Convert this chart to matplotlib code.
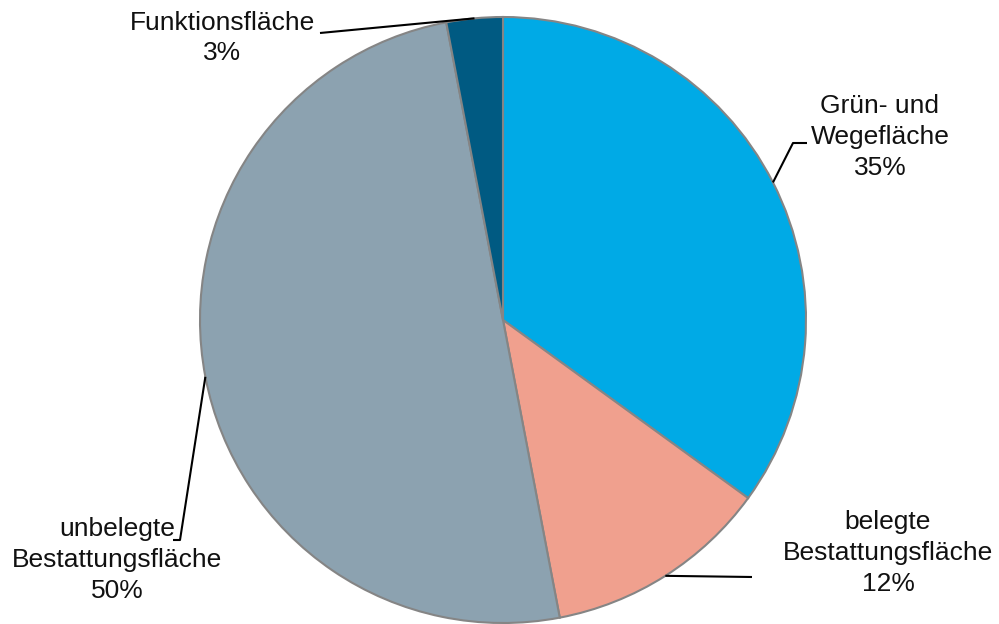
import numpy as np
import matplotlib.pyplot as plt

plt.rcParams['font.family'] = ['Liberation Sans', 'DejaVu Sans']

# data
labels = ["Grün- und\nWegefläche", "belegte\nBestattungsfläche",
          "unbelegte\nBestattungsfläche", "Funktionsfläche"]
shares = [35, 12, 50, 3]
colors = ["#00aae6", "#f0a08e", "#8ca2b0", "#005a82"]

fig = plt.figure(figsize=(9.99, 6.24), dpi=100)
ax = fig.add_axes([0, 0, 1, 1])

cx, cy, r = 503, 304, 303
wedges, _ = ax.pie(shares, colors=colors, startangle=90, counterclock=False,
                   center=(cx, cy), radius=r, frame=True,
                   wedgeprops=dict(edgecolor="#858585", linewidth=1.5))
ax.set_xlim(0, 999)
ax.set_ylim(0, 624)
ax.set_aspect("auto")
ax.axis("off")

# label text positions and leader elbow points (pixel coords, y up)
text_pos = [(880, 487), (888, 71), (117, 64), (222, 586)]
elbows = [[(793, 481), (807, 481)],
          [(752, 47)],
          [(180, 84), (173, 84)],
          [(320, 591)]]

for w, lab, val, tp, el in zip(wedges, labels, shares, text_pos, elbows):
    ang = np.deg2rad((w.theta1 + w.theta2) / 2)
    ax0 = cx + r * np.cos(ang)
    ay0 = cy + r * np.sin(ang)
    xs = [ax0] + [p[0] for p in el]
    ys = [ay0] + [p[1] for p in el]
    ax.plot(xs, ys, color="black", lw=1.5, solid_capstyle="butt")
    ax.text(tp[0], tp[1], f"{lab}\n{val}%", ha="center", va="center",
            fontsize=19, linespacing=1.35, color="#111111")

fig.savefig("out.png", dpi=100)
